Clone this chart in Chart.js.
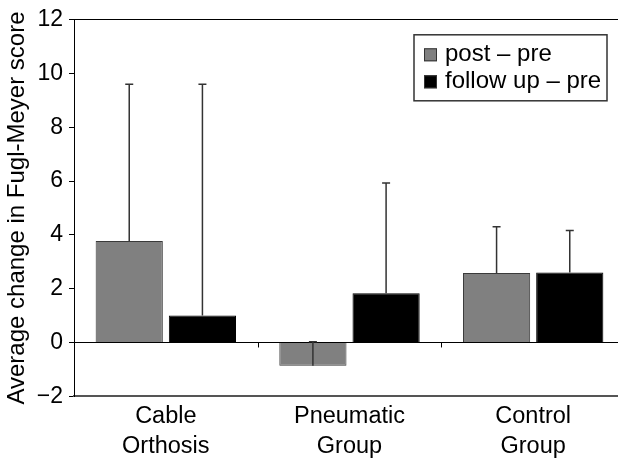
<!DOCTYPE html>
<html>
<head>
<meta charset="utf-8">
<script src="https://cdn.jsdelivr.net/npm/chart.js@4/dist/chart.umd.min.js"></script>
<style>
  html, body { margin: 0; padding: 0; background: #fff; overflow: hidden; }
  #wrap { width: 625px; height: 460px; }
</style>
</head>
<body>
<div id="wrap"><canvas id="barChart" width="625" height="460"></canvas></div>
<script>
// data
var categories = [['Cable', 'Orthosis'], ['Pneumatic', 'Group'], ['Control', 'Group']];
var seriesNames = ['post \u2013 pre', 'follow up \u2013 pre'];
var postPre = [3.77, -0.87, 2.58];
var followPre = [1.0, 1.83, 2.6];
// upper error bars (SD)
var postPreErr = [5.83, 0.9, 1.72];
var followPreErr = [8.6, 4.1, 1.56];
var yTicks = [-2, 0, 2, 4, 6, 8, 10, 12];

var FONT = '"Liberation Sans", Arial, Helvetica, sans-serif';
Chart.defaults.font.family = FONT;
Chart.defaults.color = '#000';

var errors = [postPreErr, followPreErr];

// error bars + category marks on the zero line
var errorBarPlugin = {
  id: 'errorBars',
  afterDatasetsDraw: function (chart) {
    var ctx = chart.ctx;
    var y = chart.scales.y;
    var x = chart.scales.x;
    ctx.save();
    ctx.strokeStyle = '#333';
    ctx.lineWidth = 1.5;
    chart.data.datasets.forEach(function (ds, di) {
      var meta = chart.getDatasetMeta(di);
      meta.data.forEach(function (bar, i) {
        var v = ds.data[i];
        var y0 = y.getPixelForValue(v);
        var y1 = y.getPixelForValue(v + errors[di][i]);
        ctx.beginPath();
        ctx.moveTo(bar.x, y0);
        ctx.lineTo(bar.x, y1);
        ctx.moveTo(bar.x - 4, y1);
        ctx.lineTo(bar.x + 4, y1);
        ctx.stroke();
      });
    });
    // small ticks between categories, hanging from the zero line
    var yz = y.getPixelForValue(0);
    ctx.strokeStyle = '#000';
    ctx.lineWidth = 1;
    for (var i = 1; i < categories.length; i++) {
      var bx = (x.getPixelForValue(i - 1) + x.getPixelForValue(i)) / 2;
      ctx.beginPath();
      ctx.moveTo(Math.round(bx) + 0.5, yz);
      ctx.lineTo(Math.round(bx) + 0.5, yz + 5);
      ctx.stroke();
    }
    ctx.restore();
  },
  afterDraw: function (chart) {
    // boxed legend inside the plot
    var ctx = chart.ctx;
    var a = chart.chartArea;
    var bx = 414, by = a.top + 15, bw = 193, bh = 66;
    ctx.save();
    ctx.fillStyle = '#fff';
    ctx.fillRect(bx, by, bw, bh);
    ctx.strokeStyle = '#333';
    ctx.lineWidth = 1.5;
    ctx.strokeRect(bx, by, bw, bh);
    ctx.font = '24px ' + FONT;
    ctx.textBaseline = 'middle';
    chart.data.datasets.forEach(function (ds, i) {
      var cy = by + 20 + i * 27;
      ctx.fillStyle = ds.backgroundColor;
      ctx.fillRect(bx + 10, cy - 6.5, 13, 13);
      ctx.strokeStyle = '#333';
      ctx.lineWidth = 1;
      ctx.strokeRect(bx + 10.5, cy - 6, 12, 12);
      ctx.fillStyle = '#000';
      ctx.fillText(ds.label, bx + 31, cy);
    });
    ctx.restore();
  }
};

var barData = {
  labels: categories,
  datasets: [{
    label: seriesNames[0],
    data: postPre,
    backgroundColor: '#808080',
    borderColor: '#3a3a3a',
    borderWidth: 1
  }, {
    label: seriesNames[1],
    data: followPre,
    backgroundColor: '#000000',
    borderColor: '#000000',
    borderWidth: 1
  }]
};

var myBarChart = new Chart(document.getElementById('barChart'), {
  type: 'bar',
  data: barData,
  plugins: [errorBarPlugin],
  options: {
    responsive: false,
    animation: false,
    categoryPercentage: 0.797,
    barPercentage: 0.918,
    layout: { padding: { top: 4, right: 0, bottom: -7, left: 0 } },
    plugins: {
      legend: { display: false },
      tooltip: { enabled: false }
    },
    scales: {
      x: {
        grid: { display: false, drawTicks: false },
        border: { display: true, color: '#555', width: 2 },
        ticks: { font: { size: 23.5, lineHeight: 1.25 }, padding: 6, maxRotation: 0, color: '#000' }
      },
      y: {
        min: yTicks[0],
        max: yTicks[yTicks.length - 1],
        afterBuildTicks: function (scale) {
          scale.ticks = yTicks.map(function (v) { return { value: v }; });
        },
        afterFit: function (scale) { scale.width = 74; },
        grid: {
          color: function (c) {
            var v = c.tick && c.tick.value;
            return (v === 0 || v === 12) ? '#000' : 'rgba(0,0,0,0)';
          },
          tickColor: '#000',
          tickLength: 5,
          lineWidth: 1
        },
        border: { display: true, color: '#000', width: 1 },
        ticks: {
          font: { size: 23 },
          padding: 6,
          color: '#000',
          callback: function (v) { return v < 0 ? '\u2212' + Math.abs(v) : String(v); }
        },
        title: {
          display: true,
          text: 'Average change in Fugl-Meyer score',
          font: { size: 24 },
          color: '#000',
          padding: { top: 3, bottom: 4 }
        }
      }
    }
  }
});
</script>
</body>
</html>
